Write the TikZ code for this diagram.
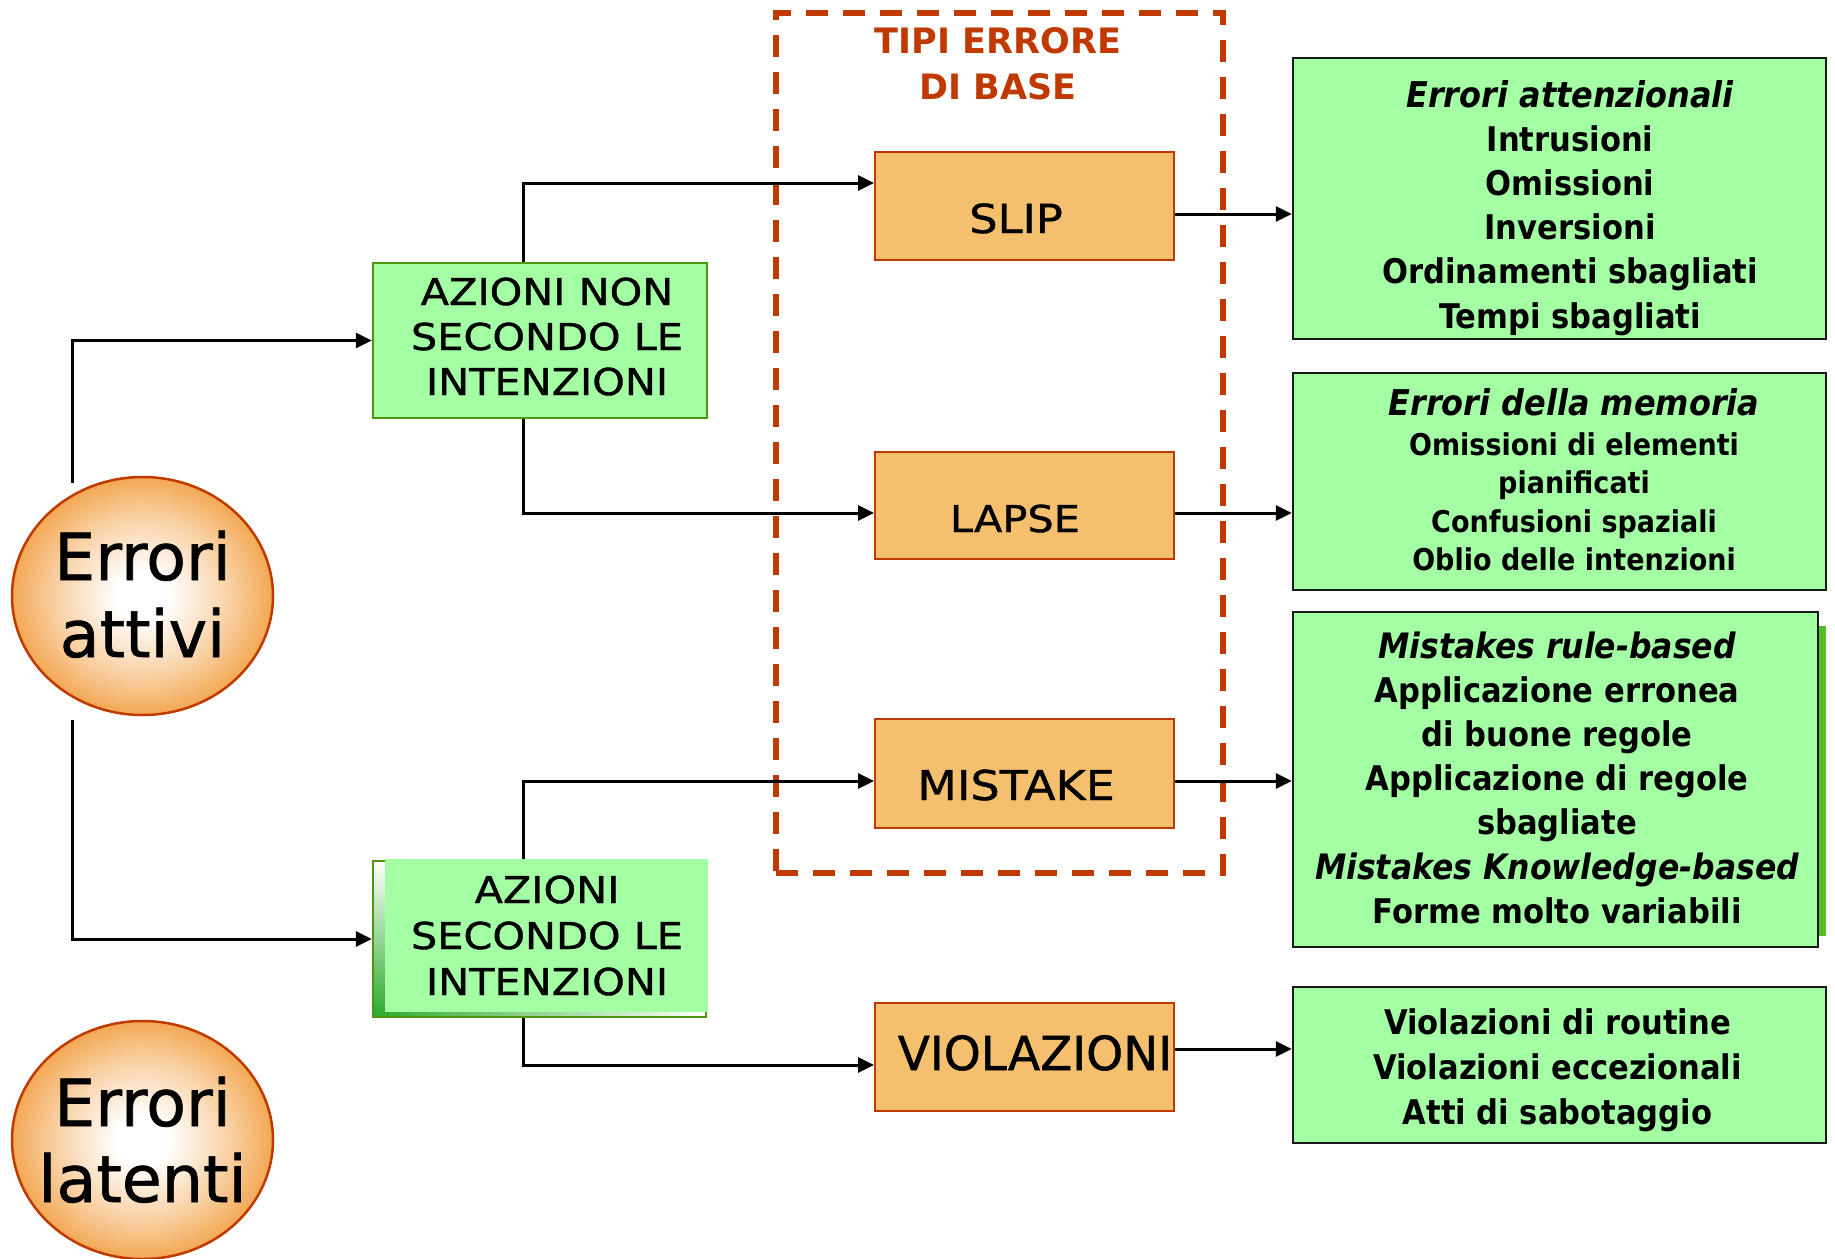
\documentclass[tikz,border=0pt]{standalone}
\usepackage{fontspec}
\setmainfont{DejaVu Sans}
\newfontfamily\widefont{DejaVu Sans}[FakeStretch=1.12,FakeBold=1]
\newfontfamily\roundfont{DejaVu Sans}[FakeBold=1]
\newfontfamily\narrowfont{DejaVu Sans}[FakeStretch=0.9]
\usetikzlibrary{arrows.meta,shapes.geometric}

\definecolor{boxgreen}{RGB}{164,255,164}
\definecolor{edgegreen}{RGB}{78,150,16}
\definecolor{shadegreen}{RGB}{44,170,44}
\definecolor{stripgreen}{RGB}{84,190,34}
\definecolor{stepfill}{RGB}{245,192,110}
\definecolor{rust}{RGB}{192,58,0}
\definecolor{glow}{RGB}{243,168,84}

\pgfdeclareradialshading{ballglow}{\pgfpoint{0bp}{0bp}}{%
  color(0bp)=(white); color(5bp)=(white); color(17bp)=(glow!55!white);
  color(25bp)=(glow); color(50bp)=(glow)}

% text placed with its first baseline #2 below the node centre, shifted #1 sideways
\newcommand\place[3]{\raisebox{-#2}[0pt][0pt]{\makebox[0pt]{\hspace*{#1}\hspace*{#1}#3}}}
\newenvironment{lines}{\begin{tabular}[t]{@{}c@{}}}{\end{tabular}}

\begin{document}
\begin{tikzpicture}[x=1pt,y=-1pt,
  conn/.style={line width=3pt,-{Triangle[length=16pt,width=15pt]}},
  errball/.style={ellipse,draw=rust,line width=2.5pt,shading=ballglow,
    minimum width=261pt,minimum height=238pt,inner sep=0pt},
  actbox/.style={rectangle,fill=boxgreen,draw=edgegreen,line width=2.5pt,inner sep=0pt},
  errtype/.style={rectangle,fill=stepfill,draw=rust,line width=2pt,inner sep=0pt,
    minimum width=299pt},
  detail/.style={rectangle,fill=boxgreen,draw=black!90,line width=2.5pt,inner sep=0pt},
  groupbox/.style={rectangle,draw=rust,line width=6pt,dash pattern=on 22pt off 15pt,
    inner sep=0pt}]

\fill[white] (0,0) rectangle (1835,1258);
\useasboundingbox (0,0) rectangle (1835,1258);

% error types frame and its title
\node[groupbox,minimum width=447pt,minimum height=860pt] (basetypes) at (999.5,443) {};
\node[inner sep=0pt,minimum width=260pt,minimum height=100pt,text=rust] (title) at (998,70)
  {\place{0pt}{-17pt}{\bfseries\fontsize{35}{46}\selectfont\begin{lines}TIPI ERRORE\\DI BASE\end{lines}}};

% active / latent errors
\node[errball] (attivi) at (142.5,596)
  {\place{0pt}{-16pt}{\roundfont\fontsize{65}{77}\selectfont\begin{lines}Errori\\attivi\end{lines}}};
\node[errball] (latenti) at (142.5,1140)
  {\place{0pt}{-14pt}{\roundfont\fontsize{65}{76}\selectfont\begin{lines}Errori\\latenti\end{lines}}};

% actions
\node[actbox,minimum width=334pt,minimum height=155pt] (azn) at (540,340.5)
  {\place{7pt}{-35.5pt}{\widefont\fontsize{37}{45}\selectfont\begin{lines}AZIONI NON\\SECONDO LE\\INTENZIONI\end{lines}}};

\shade[top color=white,bottom color=shadegreen] (373,861) rectangle (385,1017);
\shade[left color=shadegreen,right color=white] (373,1012) rectangle (706,1017);
\node[draw=edgegreen,line width=2.5pt,minimum width=333pt,minimum height=156pt,inner sep=0pt]
  (azsframe) at (539.5,939) {};
\node[fill=boxgreen,minimum width=323pt,minimum height=153pt,inner sep=0pt] (azs) at (546.5,935.5)
  {\place{0.5pt}{-32.5pt}{\widefont\fontsize{37}{46}\selectfont\begin{lines}AZIONI\\SECONDO LE\\INTENZIONI\end{lines}}};

% basic error types
\node[errtype,minimum height=108pt] (slip) at (1024.5,206)
  {\place{-8.5pt}{27pt}{\widefont\fontsize{40}{44}\selectfont SLIP}};
\node[errtype,minimum height=107pt] (lapse) at (1024.5,505.5)
  {\place{-9.5pt}{26.5pt}{\widefont\fontsize{37}{44}\selectfont LAPSE}};
\node[errtype,minimum height=109pt] (mistake) at (1024.5,773.5)
  {\place{-8.5pt}{26.5pt}{\widefont\fontsize{41}{44}\selectfont MISTAKE}};
\node[errtype,minimum height=108pt] (violazioni) at (1024.5,1057)
  {\place{10.5pt}{13pt}{\roundfont\fontsize{47}{50}\selectfont VIOLAZIONI}};

% details
\node[detail,minimum width=533pt,minimum height=281pt] (attn) at (1559.5,198.5)
  {\place{10.5pt}{-91.5pt}{\narrowfont\bfseries\fontsize{34}{44.2}\selectfont\begin{lines}
    {\fontsize{35.5}{44.2}\selectfont\itshape Errori attenzionali}\\Intrusioni\\Omissioni\\
    Inversioni\\Ordinamenti sbagliati\\Tempi sbagliati\end{lines}}};
\node[detail,minimum width=533pt,minimum height=217pt] (memoria) at (1559.5,481.5)
  {\place{14.5pt}{-66.5pt}{\narrowfont\bfseries\fontsize{30}{38.5}\selectfont\begin{lines}
    {\fontsize{35.5}{38.5}\selectfont\itshape Errori della memoria}\\[1.5pt]
    Omissioni di elementi\\pianificati\\Confusioni spaziali\\Oblio delle intenzioni\end{lines}}};
\fill[stripgreen] (1819,626) rectangle (1826,936);
\node[detail,minimum width=525pt,minimum height=335pt] (regole) at (1555.5,779.5)
  {\place{1.5pt}{-121.5pt}{\narrowfont\bfseries\fontsize{34}{44.2}\selectfont\begin{lines}
    {\fontsize{35}{44.2}\selectfont\itshape Mistakes rule-based}\\Applicazione erronea\\
    di buone regole\\Applicazione di regole\\sbagliate\\
    {\fontsize{35}{44.2}\selectfont\itshape Mistakes Knowledge-based}\\Forme molto variabili\end{lines}}};
\node[detail,minimum width=533pt,minimum height=156pt] (violdet) at (1559.5,1065)
  {\place{-2pt}{-31pt}{\narrowfont\bfseries\fontsize{34}{45}\selectfont\begin{lines}
    Violazioni di routine\\Violazioni eccezionali\\Atti di sabotaggio\end{lines}}};

% connectors
\coordinate (attivi-up) at (72,483);
\coordinate (attivi-down) at (72,720);
\draw[conn] (attivi-up) |- (azn.west);
\draw[conn] (attivi-down) |- (azsframe.west);
\draw[conn] ([xshift=-17pt]azn.north) |- ([yshift=23pt]slip.west);
\draw[conn] ([xshift=-17pt]azn.south) |- ([yshift=-7.5pt]lapse.west);
\draw[conn] ([xshift=-23.5pt]azs.north) |- ([yshift=-7.5pt]mistake.west);
\draw[conn] ([xshift=-16.5pt]azsframe.south) |- ([yshift=-8pt]violazioni.west);
\draw[conn] ([yshift=-8pt]slip.east) -- ([yshift=-8pt]slip.east -| attn.west);
\draw[conn] ([yshift=-7.5pt]lapse.east) -- ([yshift=-7.5pt]lapse.east -| memoria.west);
\draw[conn] ([yshift=-7.5pt]mistake.east) -- ([yshift=-7.5pt]mistake.east -| regole.west);
\draw[conn] ([yshift=8pt]violazioni.east) -- ([yshift=8pt]violazioni.east -| violdet.west);
\end{tikzpicture}
\end{document}
